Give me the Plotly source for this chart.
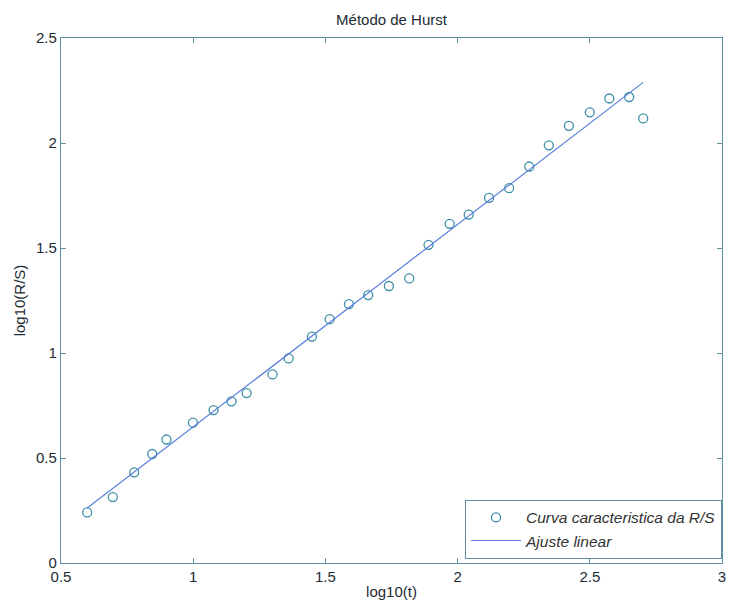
import numpy as np
import plotly.graph_objects as go

# log10 of window size and log10 of rescaled range
log_t = [0.599, 0.696, 0.777, 0.845, 0.899, 0.999, 1.077, 1.145, 1.202, 1.300,
         1.361, 1.449, 1.516, 1.589, 1.662, 1.740, 1.817, 1.890, 1.970, 2.042,
         2.119, 2.195, 2.271, 2.345, 2.421, 2.500, 2.574, 2.649, 2.702]
log_rs = [0.241, 0.314, 0.432, 0.519, 0.588, 0.668, 0.728, 0.770, 0.809, 0.898,
          0.974, 1.078, 1.161, 1.233, 1.276, 1.319, 1.355, 1.515, 1.615, 1.659,
          1.739, 1.785, 1.888, 1.989, 2.082, 2.146, 2.212, 2.219, 2.117]

# linear fit coefficients (Hurst exponent and intercept)
fit_slope = 0.964
fit_intercept = -0.316

x_fit = np.array([min(log_t), max(log_t)])
y_fit = fit_slope * x_fit + fit_intercept

axis_color = "#5f8fa3"
font = dict(family="Liberation Sans, Arial, sans-serif", size=15, color="#1c2c34")

fig = go.Figure()
fig.add_trace(go.Scatter(
    x=log_t, y=log_rs, mode="markers",
    name="<i>Curva caracteristica da R/S</i>",
    marker=dict(symbol="circle-open", size=9, color="#3d8fa8", line=dict(width=1.3)),
))
fig.add_trace(go.Scatter(
    x=x_fit, y=y_fit, mode="lines",
    name="<i>Ajuste linear</i>",
    line=dict(color="#5a7fdc", width=1.2),
))

axis_common = dict(
    showgrid=False, zeroline=False, showline=True, linecolor=axis_color, linewidth=1.3,
    mirror="ticks", ticks="inside", ticklen=5, tickcolor=axis_color, tickwidth=1,
    tickfont=font, title_font=font,
)

fig.update_layout(
    width=733, height=606,
    margin=dict(l=61, r=7, t=38, b=43),
    paper_bgcolor="white", plot_bgcolor="white",
    font=font,
    title=dict(text="Método de Hurst", x=0.5, xanchor="center", y=0.967, yanchor="middle",
               xref="paper", font=font),
    xaxis=dict(range=[0.5, 3], dtick=0.5, tick0=0.5,
               title=dict(text="log10(t)", standoff=2), **axis_common),
    yaxis=dict(range=[0, 2.5], dtick=0.5, tick0=0,
               title=dict(text="log10(R/S)", standoff=6), **axis_common),
    legend=dict(x=1, y=0.008, xanchor="right", yanchor="bottom", bgcolor="white",
                bordercolor=axis_color, borderwidth=1,
                font=dict(family=font["family"], size=15.5, color="#333333"),
                tracegroupgap=0, itemwidth=50),
    showlegend=True,
)

fig.write_html("out.html")
